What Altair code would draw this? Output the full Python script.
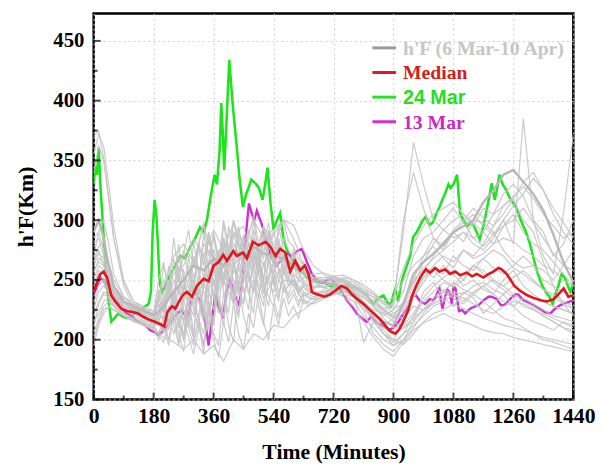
import altair as alt
import pandas as pd

# ---------------- data ----------------
GRAY_T = [0, 15, 30, 45, 60, 90, 120, 150, 180, 210,
          240, 270, 300, 330, 360, 390, 420, 450, 480, 510,
          540, 570, 600, 630, 660, 690, 720, 750, 780, 810,
          840, 870, 900, 930, 960, 990, 1020, 1050, 1080, 1110,
          1140, 1170, 1200, 1230, 1260, 1290, 1320, 1350, 1380, 1410,
          1440]

GRAY_DAYS = [
    [370, 375, 352, 318, 285, 248, 232, 228, 224, 232, 255, 262, 285, 270, 292, 275, 298, 280, 300, 285,
     292, 300, 296, 275, 262, 255, 250, 248, 240, 232, 225, 222, 232, 290, 365, 330, 300, 292, 285, 290,
     280, 275, 285, 300, 280, 385, 300, 270, 255, 305, 372],
    [200, 215, 225, 228, 225, 220, 215, 212, 208, 202, 198, 192, 200, 188, 195, 182, 200, 192, 205, 200,
     212, 210, 220, 225, 232, 236, 240, 236, 228, 215, 202, 192, 186, 198, 208, 214, 218, 222, 218, 215,
     212, 208, 206, 205, 202, 200, 198, 196, 194, 192, 190],
    [280, 285, 270, 250, 238, 228, 225, 220, 216, 225, 215, 245, 230, 248, 260, 285, 262, 275, 268, 280,
     265, 270, 255, 246, 244, 246, 250, 242, 235, 225, 220, 205, 200, 215, 235, 248, 260, 255, 270, 262,
     258, 268, 275, 270, 260, 255, 248, 242, 238, 232, 228],
    [250, 262, 258, 245, 235, 226, 222, 218, 212, 215, 230, 205, 250, 220, 275, 255, 240, 285, 262, 275,
     290, 258, 265, 248, 238, 240, 242, 238, 232, 220, 210, 200, 195, 205, 220, 232, 240, 248, 244, 250,
     262, 255, 248, 242, 235, 228, 225, 220, 215, 210, 205],
    [225, 240, 245, 240, 232, 225, 220, 216, 214, 220, 250, 232, 270, 240, 212, 280, 250, 230, 292, 245,
     228, 270, 250, 240, 236, 238, 244, 246, 240, 235, 228, 220, 225, 240, 270, 285, 290, 300, 310, 298,
     285, 290, 280, 295, 305, 290, 280, 275, 265, 255, 245],
    [265, 275, 262, 248, 240, 230, 226, 222, 218, 208, 222, 258, 230, 205, 270, 245, 280, 262, 240, 288,
     270, 250, 248, 230, 235, 242, 248, 252, 245, 238, 232, 226, 230, 250, 262, 270, 278, 268, 260, 275,
     270, 280, 295, 312, 318, 300, 290, 265, 245, 230, 220],
    [210, 230, 238, 236, 230, 222, 218, 215, 210, 235, 205, 225, 195, 245, 285, 250, 230, 265, 275, 245,
     262, 240, 250, 236, 242, 250, 253, 250, 242, 198, 215, 210, 205, 218, 228, 225, 232, 240, 235, 230,
     238, 232, 225, 218, 215, 210, 205, 200, 198, 195, 192],
    [240, 255, 250, 242, 236, 228, 224, 220, 215, 210, 240, 215, 255, 228, 290, 245, 300, 258, 270, 240,
     265, 255, 245, 252, 255, 256, 253, 248, 244, 240, 236, 230, 228, 300, 340, 310, 285, 275, 290, 282,
     300, 298, 290, 275, 265, 260, 262, 258, 250, 262, 275],
    [270, 290, 300, 280, 255, 236, 230, 226, 222, 218, 260, 240, 220, 280, 268, 250, 290, 272, 285, 262,
     288, 300, 285, 262, 248, 244, 240, 238, 236, 228, 218, 212, 218, 232, 250, 258, 252, 262, 255, 245,
     250, 242, 238, 250, 258, 245, 238, 232, 228, 225, 222],
    [215, 222, 232, 235, 228, 220, 216, 213, 210, 198, 228, 200, 238, 195, 250, 220, 265, 240, 258, 235,
     250, 262, 245, 232, 230, 234, 238, 240, 238, 225, 205, 196, 190, 200, 215, 240, 248, 235, 228, 240,
     235, 222, 230, 238, 228, 220, 215, 212, 208, 215, 212],
    [255, 268, 265, 255, 245, 235, 228, 225, 220, 245, 270, 280, 265, 295, 270, 260, 288, 295, 265, 295,
     280, 262, 270, 258, 250, 250, 251, 250, 245, 242, 238, 232, 235, 260, 280, 295, 305, 310, 315, 305,
     295, 310, 305, 322, 330, 320, 300, 290, 270, 280, 300],
]

# second set of days, sampled more finely through the noisy daytime hours
GRAY_T_FINE = [0, 15, 30, 45, 60, 90, 120, 150,
               180, 195, 210, 225, 240, 255, 270, 285, 300, 315, 330, 345, 360, 375, 390, 405, 420, 435,
               450, 465, 480, 495, 510, 525, 540, 555, 570, 585, 600, 615, 630, 645, 660,
               690, 720, 750, 780, 810, 840, 870, 900, 930, 960, 990, 1020, 1050, 1080, 1110, 1140,
               1170, 1200, 1230, 1260, 1290, 1320, 1350, 1380, 1410, 1440]

GRAY_DAYS_FINE = [
    [285, 290, 275, 255, 240, 230, 226, 222,
     218, 230, 215, 245, 225, 262, 238, 270, 245, 278, 250, 285, 262, 240, 275, 255, 290, 268, 250, 282,
     260, 272, 248, 288, 265, 278, 255, 270, 262, 250, 265, 252, 245,
     244, 246, 248, 246, 240, 232, 225, 220, 218, 235, 252, 262, 270, 265, 275, 268, 272, 280, 285, 282,
     275, 270, 262, 258, 250, 245],
    [205, 218, 228, 232, 228, 222, 218, 214,
     212, 205, 218, 200, 222, 195, 215, 202, 188, 210, 195, 225, 200, 185, 215, 198, 230, 205, 192, 222,
     210, 238, 215, 200, 228, 212, 235, 220, 228, 218, 235, 228, 232,
     236, 240, 242, 238, 228, 215, 205, 198, 205, 212, 220, 228, 232, 238, 235, 230, 225, 222, 228, 232,
     230, 226, 220, 215, 210, 208],
    [262, 272, 268, 252, 242, 232, 227, 223,
     220, 242, 225, 262, 235, 280, 250, 228, 268, 245, 290, 258, 235, 275, 248, 295, 265, 240, 280, 258,
     300, 272, 250, 285, 262, 295, 275, 255, 272, 260, 258, 250, 248,
     250, 252, 250, 245, 238, 232, 225, 220, 232, 248, 260, 268, 275, 282, 290, 285, 278, 288, 295, 300,
     310, 298, 285, 272, 262, 258],
    [230, 245, 250, 242, 234, 226, 222, 218,
     214, 225, 240, 215, 232, 255, 225, 210, 245, 232, 215, 260, 238, 222, 270, 248, 230, 262, 242, 225,
     275, 255, 238, 268, 250, 232, 262, 245, 255, 240, 248, 242, 240,
     240, 244, 246, 242, 236, 228, 218, 210, 212, 222, 235, 245, 252, 258, 250, 262, 268, 260, 255, 262,
     270, 262, 250, 245, 240, 238],
    [245, 258, 255, 245, 238, 228, 224, 220,
     216, 212, 235, 208, 225, 245, 215, 238, 205, 250, 228, 212, 262, 235, 218, 270, 245, 222, 255, 238,
     265, 242, 228, 272, 250, 235, 258, 245, 250, 238, 245, 240, 238,
     238, 240, 242, 240, 232, 222, 212, 205, 210, 218, 225, 230, 235, 240, 238, 245, 248, 242, 238, 245,
     240, 235, 232, 228, 225, 222],
    [340, 362, 350, 318, 285, 245, 228, 224,
     222, 250, 265, 240, 285, 255, 272, 292, 260, 280, 298, 270, 288, 262, 300, 278, 265, 295, 272, 285,
     305, 280, 268, 292, 275, 288, 300, 282, 278, 268, 262, 256, 252,
     250, 250, 252, 250, 244, 238, 230, 222, 228, 245, 265, 280, 292, 300, 305, 298, 290, 305, 312, 320,
     328, 318, 305, 295, 285, 290],
    [220, 232, 240, 238, 230, 222, 217, 213,
     209, 200, 215, 195, 222, 205, 190, 228, 200, 215, 188, 232, 205, 195, 240, 212, 198, 245, 220, 205,
     250, 228, 212, 255, 235, 218, 245, 230, 238, 228, 240, 236, 234,
     238, 242, 244, 240, 232, 220, 208, 200, 196, 205, 215, 222, 225, 230, 226, 222, 218, 215, 212, 210,
     208, 205, 202, 200, 198, 196],
    [258, 265, 262, 250, 240, 230, 225, 221,
     218, 235, 222, 250, 230, 210, 245, 262, 235, 250, 272, 240, 225, 262, 285, 250, 232, 270, 288, 255,
     240, 278, 295, 262, 245, 282, 268, 250, 262, 255, 250, 246, 244,
     244, 248, 250, 248, 242, 235, 226, 218, 225, 240, 252, 258, 250, 245, 255, 262, 258, 250, 245, 252,
     258, 250, 242, 236, 230, 226],
    [195, 212, 222, 228, 225, 220, 216, 212,
     210, 218, 205, 228, 212, 198, 235, 215, 202, 245, 222, 208, 252, 230, 212, 258, 238, 218, 262, 240,
     222, 265, 245, 228, 258, 240, 250, 235, 242, 232, 238, 235, 234,
     235, 238, 240, 238, 230, 218, 205, 195, 200, 210, 222, 232, 240, 248, 242, 238, 245, 250, 245, 238,
     232, 228, 222, 218, 214, 210],
    [355, 372, 362, 330, 295, 250, 232, 226,
     224, 232, 262, 245, 228, 270, 252, 235, 282, 258, 242, 290, 265, 248, 298, 272, 255, 288, 265, 250,
     280, 262, 295, 270, 255, 285, 265, 260, 275, 262, 256, 252, 250,
     248, 247, 248, 246, 240, 232, 224, 218, 222, 238, 256, 270, 282, 290, 298, 305, 295, 288, 300, 312,
     322, 335, 325, 310, 298, 285],
    [240, 250, 248, 240, 234, 226, 222, 218,
     214, 220, 232, 212, 238, 220, 200, 242, 225, 210, 250, 232, 215, 258, 240, 222, 265, 245, 230, 270,
     252, 235, 265, 248, 240, 258, 245, 238, 250, 242, 244, 240, 238,
     240, 243, 245, 243, 238, 230, 222, 215, 210, 215, 225, 235, 242, 238, 232, 240, 245, 238, 232, 228,
     235, 230, 225, 220, 218, 215],
    [268, 278, 282, 265, 250, 236, 230, 225,
     222, 238, 250, 232, 268, 248, 275, 255, 240, 282, 262, 290, 270, 252, 285, 268, 300, 278, 262, 292,
     272, 255, 282, 298, 272, 262, 285, 275, 268, 262, 258, 255, 252,
     252, 253, 254, 250, 246, 240, 232, 226, 230, 250, 270, 285, 278, 292, 300, 310, 302, 295, 305, 318,
     332, 340, 325, 305, 290, 280],
]

GRAY_THICK = [290, 300, 285, 262, 245, 232, 228, 224, 220, 228, 240, 250, 262, 258, 268, 262, 275, 270, 278, 272,
              270, 268, 262, 255, 250, 248, 246, 244, 238, 230, 222, 215, 212, 230, 255, 265, 272, 280, 290, 295,
              300, 315, 325, 338, 342, 332, 322, 308, 288, 265, 248]

MEDIAN = [(0, 240), (10, 248), (20, 255), (30, 257), (40, 252), (53, 237), (65, 232), (83, 226), (100, 224),
          (120, 223), (133, 222), (150, 219), (165, 217), (183, 215), (200, 213), (212, 211), (221, 223),
          (235, 228), (245, 226), (260, 234), (270, 238), (280, 240), (295, 236), (310, 245), (330, 251),
          (345, 249), (360, 262), (375, 265), (389, 271), (400, 266), (419, 274), (430, 270), (448, 273),
          (460, 268), (478, 282), (495, 279), (516, 282), (530, 278), (546, 270), (560, 276), (575, 273),
          (590, 257), (605, 266), (620, 258), (634, 262), (645, 255), (655, 240), (670, 238), (693, 236),
          (710, 238), (725, 241), (743, 245), (760, 243), (775, 238), (791, 234), (810, 230), (825, 226),
          (841, 222), (860, 217), (875, 212), (891, 207), (906, 205), (918, 209), (929, 215), (945, 225),
          (955, 236), (968, 245), (980, 252), (997, 259), (1010, 256), (1025, 260), (1038, 257), (1055, 259),
          (1070, 255), (1086, 257), (1100, 254), (1120, 256), (1136, 253), (1150, 255), (1170, 252),
          (1185, 255), (1200, 257), (1215, 260), (1224, 259), (1240, 255), (1263, 245), (1280, 241),
          (1303, 237), (1320, 235), (1342, 233), (1360, 232), (1381, 234), (1395, 238), (1411, 243),
          (1425, 236), (1440, 237)]

MAR24 = [(0, 330), (5, 345), (10, 338), (15, 361), (20, 330), (29, 290), (37, 258), (44, 234), (53, 215),
         (62, 218), (74, 222), (90, 219), (103, 218), (118, 221), (133, 223), (150, 227), (165, 230), (172, 240),
         (177, 290), (183, 317), (188, 305), (192, 284), (198, 248), (205, 240), (215, 245), (230, 255),
         (245, 262), (260, 270), (275, 268), (290, 278), (305, 285), (319, 294), (330, 290), (340, 300),
         (350, 318), (363, 338), (370, 330), (378, 358), (383, 398), (388, 370), (392, 342), (400, 390),
         (407, 434), (418, 395), (428, 366), (438, 335), (448, 311), (458, 322), (466, 328), (473, 334),
         (481, 332), (488, 330), (496, 327), (507, 317), (515, 330), (522, 344), (531, 314), (540, 292),
         (550, 300), (560, 306), (569, 286), (580, 275), (595, 268), (610, 262), (625, 258), (640, 252),
         (660, 250), (680, 248), (693, 248), (710, 245), (725, 244), (743, 243), (760, 246), (775, 244),
         (791, 243), (805, 240), (820, 237), (830, 233), (841, 230), (855, 235), (870, 237), (880, 232),
         (891, 228), (900, 238), (906, 243), (914, 232), (922, 245), (929, 253), (940, 262), (950, 270),
         (959, 286), (970, 290), (979, 295), (988, 300), (997, 303), (1008, 296), (1018, 298), (1028, 305),
         (1038, 311), (1048, 318), (1056, 323), (1065, 330), (1071, 327), (1080, 330), (1091, 338),
         (1100, 306), (1110, 300), (1121, 295), (1130, 298), (1142, 295), (1150, 290), (1159, 284),
         (1170, 295), (1180, 309), (1188, 320), (1195, 331), (1204, 317), (1210, 325), (1218, 338),
         (1228, 330), (1239, 325), (1250, 318), (1268, 311), (1285, 298), (1298, 290), (1310, 280),
         (1319, 270), (1328, 260), (1336, 253), (1347, 245), (1357, 240), (1368, 236), (1378, 230),
         (1386, 238), (1395, 245), (1405, 255), (1416, 251), (1425, 244), (1431, 240), (1440, 248)]

MAR13 = [(0, 238), (10, 245), (20, 252), (30, 250), (40, 243), (55, 237), (70, 232), (85, 226), (100, 222),
         (115, 219), (130, 216), (140, 214), (155, 212), (170, 208), (185, 206), (195, 204), (210, 208),
         (230, 215), (250, 222), (265, 225), (280, 218), (290, 230), (305, 240), (320, 232), (335, 215),
         (345, 195), (352, 210), (365, 238), (375, 228), (389, 218), (398, 240), (410, 250), (422, 238),
         (437, 229), (447, 250), (456, 285), (466, 314), (474, 306), (482, 300), (490, 308), (496, 303),
         (503, 298), (510, 292), (520, 280), (535, 268), (550, 262), (565, 268), (580, 272), (595, 270),
         (610, 274), (625, 276), (640, 265), (655, 255), (670, 250), (685, 248), (700, 250), (713, 251),
         (728, 246), (745, 240), (760, 233), (775, 228), (790, 222), (805, 218), (820, 215), (835, 220),
         (850, 214), (870, 212), (885, 208), (900, 210), (915, 215), (930, 222), (945, 228), (955, 236),
         (968, 237), (980, 232), (995, 230), (1009, 234), (1020, 233), (1030, 238), (1038, 243), (1043, 232),
         (1047, 226), (1055, 236), (1062, 242), (1068, 240), (1075, 230), (1080, 244), (1086, 243),
         (1092, 232), (1097, 224), (1106, 225), (1115, 222), (1130, 226), (1145, 228), (1156, 229),
         (1170, 233), (1185, 236), (1195, 236), (1210, 234), (1222, 229), (1233, 229), (1250, 234),
         (1265, 238), (1274, 238), (1290, 233), (1305, 231), (1321, 229), (1340, 226), (1355, 223),
         (1371, 222), (1385, 226), (1401, 229), (1420, 231), (1440, 233)]

X_TICKS = [0, 180, 360, 540, 720, 900, 1080, 1260, 1440]
X_MINOR = [90, 270, 450, 630, 810, 990, 1170, 1350]
Y_TICKS = [150, 200, 250, 300, 350, 400, 450]
Y_MINOR = [175, 225, 275, 325, 375, 425]

LEGEND_LABELS = ["h'F (6 Mar-10 Apr)", "Median", "24 Mar", "13 Mar"]
LEGEND_LINE_COLORS = ["#9a9a9a", "#e5161c", "#22e622", "#d22ed2"]
LEGEND_TEXT_COLORS = ["#c6c6c6", "#d41c1c", "#22e022", "#c82ac8"]
LEGEND_FONTS = ["Liberation Serif", "Liberation Serif", "Liberation Sans", "Liberation Serif"]

# ---------------- layout ----------------
W, H = 487, 392
SERIF = "Liberation Serif"

gray_rows = []
for d, vals in enumerate(GRAY_DAYS):
    for t, v in zip(GRAY_T, vals):
        gray_rows.append({"t": t, "v": v, "day": "a%d" % d})
for d, vals in enumerate(GRAY_DAYS_FINE):
    for t, v in zip(GRAY_T_FINE, vals):
        gray_rows.append({"t": t, "v": v, "day": "b%d" % d})
gray_df = pd.DataFrame(gray_rows)
thick_df = pd.DataFrame({"t": GRAY_T, "v": GRAY_THICK})
median_df = pd.DataFrame(MEDIAN, columns=["t", "v"])
g24_df = pd.DataFrame(MAR24, columns=["t", "v"])
m13_df = pd.DataFrame(MAR13, columns=["t", "v"])

xs = alt.Scale(domain=[0, 1440], nice=False)
ys = alt.Scale(domain=[150, 473], nice=False)

X = alt.X("t:Q", scale=xs,
          axis=alt.Axis(values=X_TICKS, title="Time (Minutes)", labelFontSize=22, labelOverlap=False,
                        labelFlush=False, labelPadding=6, titleFontSize=22, titlePadding=16, format="d"))
Y = alt.Y("v:Q", scale=ys,
          axis=alt.Axis(values=Y_TICKS, title="h'F(Km)", labelFontSize=21, labelOverlap=False,
                        labelFlush=False, labelPadding=10, titleFontSize=22, titlePadding=16, format="d"))

green = alt.Chart(g24_df).mark_line(color="#1ee41e", strokeWidth=2.6, clip=True).encode(x=X, y=Y, order="t:Q")
magenta = alt.Chart(m13_df).mark_line(color="#d02cd0", strokeWidth=2.4, clip=True).encode(x=X, y=Y, order="t:Q")
gray = alt.Chart(gray_df).mark_line(color="#c4c4c4", strokeWidth=1.2, opacity=0.9, clip=True).encode(
    x=X, y=Y, detail="day:N", order="t:Q")
thick = alt.Chart(thick_df).mark_line(color="#b8b8b8", strokeWidth=2.4, clip=True).encode(x=X, y=Y, order="t:Q")
median = alt.Chart(median_df).mark_line(color="#e3141b", strokeWidth=2.6, clip=True).encode(x=X, y=Y, order="t:Q")

xmaj = alt.Chart(pd.DataFrame({"t": X_TICKS})).mark_tick(
    orient="vertical", color="black", thickness=2, size=7).encode(x=X, y=alt.value(H - 3.5))
xmin = alt.Chart(pd.DataFrame({"t": X_MINOR})).mark_tick(
    orient="vertical", color="black", thickness=2, size=4).encode(x=X, y=alt.value(H - 2))
ymaj = alt.Chart(pd.DataFrame({"v": Y_TICKS})).mark_tick(
    orient="horizontal", color="black", thickness=2, size=7).encode(y=Y, x=alt.value(3.5))
ymin = alt.Chart(pd.DataFrame({"v": Y_MINOR})).mark_tick(
    orient="horizontal", color="black", thickness=2, size=4).encode(y=Y, x=alt.value(2))

legend_layers = []
for i, lab in enumerate(LEGEND_LABELS):
    ly = 35 + 25 * i
    src = pd.DataFrame({"label": [lab]})
    legend_layers.append(
        alt.Chart(src).mark_rule(color=LEGEND_LINE_COLORS[i], strokeWidth=3).encode(
            x=alt.value(283), x2=alt.value(307), y=alt.value(ly)))
    legend_layers.append(
        alt.Chart(src).mark_text(align="left", baseline="middle", font=LEGEND_FONTS[i],
                                 fontSize=20, fontWeight="bold", color=LEGEND_TEXT_COLORS[i]).encode(
            text="label:N", x=alt.value(314), y=alt.value(ly + 1)))

chart = alt.layer(green, magenta, gray, thick, median, xmaj, xmin, ymaj, ymin, *legend_layers).properties(
    width=W, height=H,
    autosize=alt.AutoSizeParams(type="none"),
    padding={"left": 87, "top": 2, "right": 22, "bottom": 62},
    background="white",
).configure_view(
    stroke="black", strokeWidth=2.5
).configure_axis(
    domain=False, ticks=False, tickSize=0, grid=True, gridColor="#cfcfcf", gridDash=[2, 3],
    gridWidth=1, labelFont=SERIF, labelFontWeight="bold", labelColor="black",
    titleFont=SERIF, titleFontWeight="bold", titleColor="black"
)

chart.save("out.html", embed_options={"renderer": "svg", "actions": False})
